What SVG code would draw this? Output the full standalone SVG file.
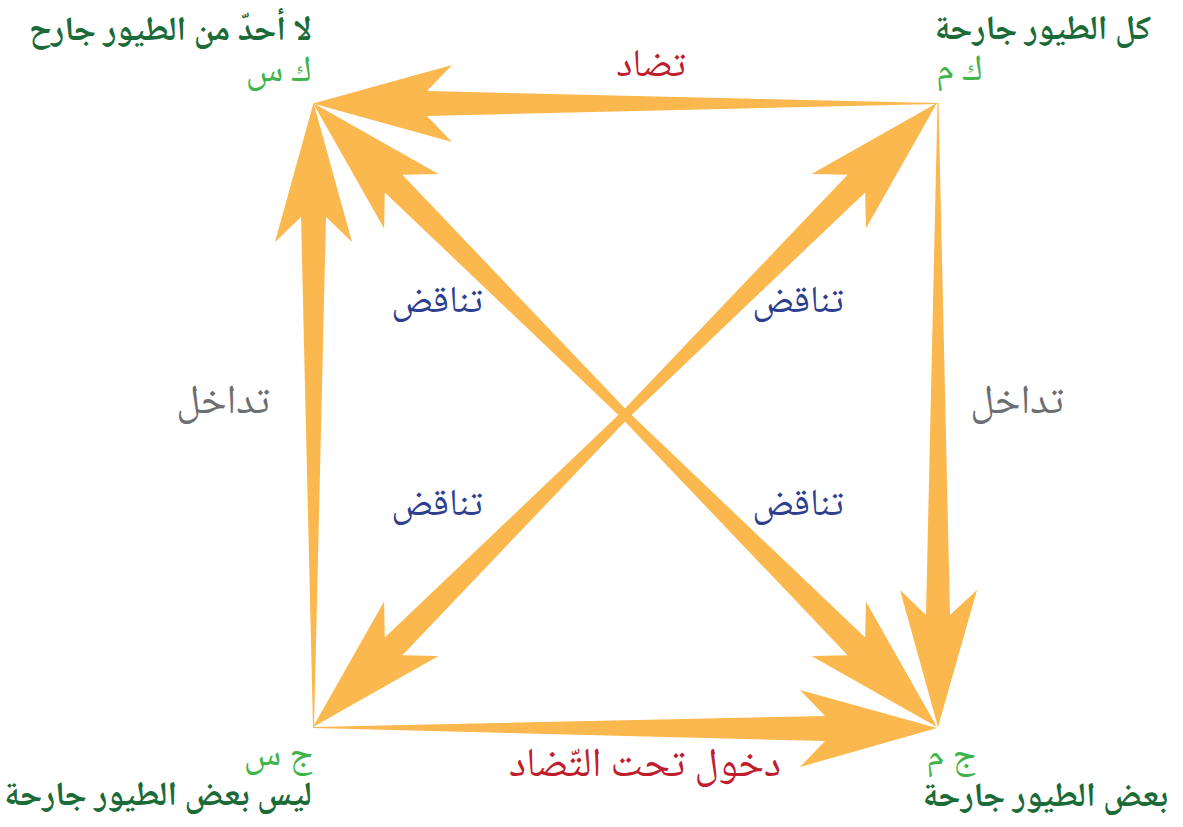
<svg xmlns="http://www.w3.org/2000/svg" width="1183" height="827" viewBox="0 0 1183 827">
  <style>
    text { font-family: "Noto Naskh Arabic", "Noto Sans Arabic", "DejaVu Sans", sans-serif; }
    .arrow { fill: #fbb84f; stroke: none; }
    .title { fill: #1b6b38; font-weight: bold; font-size: 34px; }
    .sym { fill: #3db54a; font-size: 37px; }
    .red { fill: #be1e2d; }
    .blue { fill: #2e3f8f; font-size: 38px; }
    .grey { fill: #6d6e71; font-size: 41px; }
  </style>
  <rect width="1183" height="827" fill="#ffffff"/>
  <g id="connectors">
    <!-- top: contrary (tapered, head at TL) -->
    <polygon class="arrow" points="313,103.5 452,65 427,91 937,103 937,104 427,116 452,142"/>
    <!-- left: subalternation (head at TL) -->
    <polygon class="arrow" points="313.5,103 352,242 326,217 314,727 313,727 301,217 275,242"/>
    <!-- right: subalternation (head at BR) -->
    <polygon class="arrow" points="938,727 900,590 926,615 937.5,103 938.5,103 950,615 977,590"/>
    <!-- bottom: subcontrary (head at BR) -->
    <polygon class="arrow" points="937,728 800,690 825,716 313,727 313,728 825,741 800,767"/>
    <!-- diagonal TL-BR (double head) -->
    <polygon class="arrow" points="313,103 438.5,174.1 402.4,174.8 628.2,411.8 865.2,637.6 865.9,601.5 937,727 811.5,655.9 847.6,655.2 621.8,418.2 384.8,192.4 384.1,228.5"/>
    <!-- diagonal TR-BL (double head) -->
    <polygon class="arrow" points="937,103 865.9,228.5 865.2,192.4 628.2,418.2 402.4,655.2 438.5,655.9 313,727 384.1,601.5 384.8,637.6 621.8,411.8 847.6,174.8 811.5,174.1"/>
  </g>
  <g id="edge-labels">
    <text class="red" x="651" y="76" text-anchor="middle" font-size="39">تضاد</text>
    <text class="red" x="645" y="776" text-anchor="middle" font-size="41">دخول تحت التّضاد</text>
    <text class="blue" x="437" y="312" text-anchor="middle">تناقض</text>
    <text class="blue" x="798" y="312" text-anchor="middle">تناقض</text>
    <text class="blue" x="437" y="515" text-anchor="middle">تناقض</text>
    <text class="blue" x="798" y="515" text-anchor="middle">تناقض</text>
    <text class="grey" x="223" y="413" text-anchor="middle">تداخل</text>
    <text class="grey" x="1017" y="413" text-anchor="middle">تداخل</text>
  </g>
  <g id="node-E">
    <text class="title" x="312" y="40" text-anchor="end">لا أحدّ من الطيور جارح</text>
    <text class="sym" x="312" y="81" text-anchor="end">ك س</text>
  </g>
  <g id="node-A">
    <text class="title" x="1151" y="39" text-anchor="end">كل الطيور جارحة</text>
    <text class="sym" x="983" y="80" text-anchor="end">ك م</text>
  </g>
  <g id="node-O">
    <text class="sym" x="313" y="765" text-anchor="end">ج س</text>
    <text class="title" x="312" y="805" text-anchor="end" font-size="33">ليس بعض الطيور جارحة</text>
  </g>
  <g id="node-I">
    <text class="sym" x="976" y="766" text-anchor="end">ج م</text>
    <text class="title" x="1168" y="806" text-anchor="end" font-size="33">بعض الطيور جارحة</text>
  </g>
</svg>
